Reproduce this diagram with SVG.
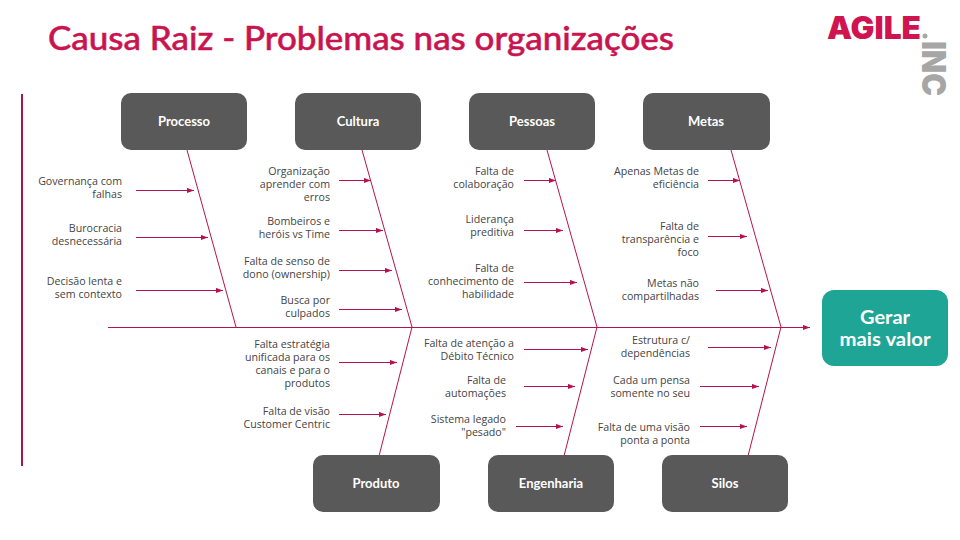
<svg xmlns="http://www.w3.org/2000/svg" width="960" height="540" viewBox="0 0 960 540">
<style>
.t{font-family:"Open Sans","Noto Sans",sans-serif;font-size:10.65px;fill:#444;text-anchor:end}
.n{fill:#595959}
.h{font-family:Lato,"Open Sans",sans-serif;font-weight:700;font-size:13px;fill:#fff;text-anchor:middle}
.g{font-family:Lato,"Open Sans",sans-serif;font-weight:700;font-size:19px;fill:#fff;text-anchor:middle}
.c line{stroke:#b5124f;stroke-width:1;fill:none}
.c line.a{marker-end:url(#m)}
</style>
<defs><marker id="m" markerUnits="userSpaceOnUse" markerWidth="8" markerHeight="6" refX="7" refY="3" orient="auto"><path d="M0 0.4L7 3L0 5.6z" fill="#b5124f"/></marker></defs>
<rect width="960" height="540" fill="#fff"/>
<text x="48" y="50" font-family="Lato,'Open Sans',sans-serif" font-size="32" font-weight="500" fill="#c8144f" stroke="#c8144f" stroke-width="0.5" textLength="626" lengthAdjust="spacingAndGlyphs">Causa Raiz - Problemas nas organizações</text>
<g id="logo">
<text x="827" y="39" font-family="Inter,'Liberation Sans',sans-serif" font-size="31" font-weight="900" fill="#d0144f" textLength="94" lengthAdjust="spacingAndGlyphs">AGILE</text>
<circle cx="925" cy="36" r="2.500" fill="#a6a6a6"/>
<text transform="translate(922 41) rotate(90)" font-family="Inter,'Liberation Sans',sans-serif" font-size="33" font-weight="900" fill="#a6a6a6" textLength="55" lengthAdjust="spacingAndGlyphs">INC</text>
</g>
<g class="c" id="connectors">
<line x1="22" y1="94" x2="22" y2="466" style="stroke-width:2;stroke:#a5174f"/>
<line class="a" x1="108" y1="327.500" x2="810" y2="327.500"/>
<line x1="187" y1="150" x2="236" y2="327"/>
<line x1="362" y1="150" x2="412" y2="327"/>
<line x1="547" y1="150" x2="597" y2="327"/>
<line x1="731" y1="150" x2="781" y2="327"/>
<line x1="412" y1="327" x2="379" y2="456"/>
<line x1="597" y1="327" x2="564" y2="456"/>
<line x1="781" y1="327" x2="748" y2="456"/>
<line class="a" x1="136" y1="190.500" x2="194" y2="190.500"/>
<line class="a" x1="136" y1="237.500" x2="208" y2="237.500"/>
<line class="a" x1="136" y1="290.500" x2="223" y2="290.500"/>
<line class="a" x1="339" y1="180.500" x2="371" y2="180.500"/>
<line class="a" x1="339" y1="230.500" x2="383" y2="230.500"/>
<line class="a" x1="339" y1="270.500" x2="392" y2="270.500"/>
<line class="a" x1="339" y1="309.500" x2="402" y2="309.500"/>
<line class="a" x1="524" y1="180.500" x2="556" y2="180.500"/>
<line class="a" x1="524" y1="230.500" x2="563" y2="230.500"/>
<line class="a" x1="524" y1="282.500" x2="577" y2="282.500"/>
<line class="a" x1="708" y1="180.500" x2="740" y2="180.500"/>
<line class="a" x1="708" y1="236.500" x2="747" y2="236.500"/>
<line class="a" x1="716" y1="290.500" x2="768" y2="290.500"/>
<line class="a" x1="339" y1="362.500" x2="397" y2="362.500"/>
<line class="a" x1="339" y1="414.500" x2="386" y2="414.500"/>
<line class="a" x1="524" y1="349.500" x2="588" y2="349.500"/>
<line class="a" x1="524" y1="386.500" x2="575" y2="386.500"/>
<line class="a" x1="516" y1="426.500" x2="563" y2="426.500"/>
<line class="a" x1="708" y1="347.500" x2="771" y2="347.500"/>
<line class="a" x1="700" y1="386.500" x2="759" y2="386.500"/>
<line class="a" x1="700" y1="426.500" x2="747" y2="426.500"/>
</g>
<g id="processo"><rect class="n" x="121" y="93" width="126" height="57" rx="10"/><text class="h" x="184" y="126">Processo</text></g>
<g id="cultura"><rect class="n" x="295" y="93" width="126" height="57" rx="10"/><text class="h" x="358" y="126">Cultura</text></g>
<g id="pessoas"><rect class="n" x="469" y="93" width="126" height="57" rx="10"/><text class="h" x="532" y="126">Pessoas</text></g>
<g id="metas"><rect class="n" x="643" y="93" width="127" height="57" rx="10"/><text class="h" x="706" y="126">Metas</text></g>
<g id="produto"><rect class="n" x="313" y="455" width="127" height="57" rx="10"/><text class="h" x="376" y="488">Produto</text></g>
<g id="engenharia"><rect class="n" x="488" y="455" width="126" height="57" rx="10"/><text class="h" x="551" y="488">Engenharia</text></g>
<g id="silos"><rect class="n" x="662" y="455" width="126" height="57" rx="10"/><text class="h" x="725" y="488">Silos</text></g>
<g id="gerar"><rect x="822" y="290" width="126" height="76" rx="12" fill="#1fa596"/>
<text class="g" x="885" y="324" textLength="50" lengthAdjust="spacingAndGlyphs">Gerar</text>
<text class="g" x="885" y="346" textLength="91" lengthAdjust="spacingAndGlyphs">mais valor</text></g>
<g id="labels">
<text class="t" x="122" y="185">Governança com</text><text class="t" x="122" y="198">falhas</text>
<text class="t" x="122" y="232">Burocracia</text><text class="t" x="122" y="245">desnecessária</text>
<text class="t" x="122" y="285">Decisão lenta e</text><text class="t" x="122" y="298">sem contexto</text>
<text class="t" x="330" y="175">Organização</text><text class="t" x="330" y="188">aprender com</text><text class="t" x="330" y="201">erros</text>
<text class="t" x="330" y="225">Bombeiros e</text><text class="t" x="330" y="238">heróis vs Time</text>
<text class="t" x="330" y="265">Falta de senso de</text><text class="t" x="330" y="278">dono (ownership)</text>
<text class="t" x="330" y="304">Busca por</text><text class="t" x="330" y="317">culpados</text>
<text class="t" x="514" y="175">Falta de</text><text class="t" x="514" y="188">colaboração</text>
<text class="t" x="514" y="223">Liderança</text><text class="t" x="514" y="236">preditiva</text>
<text class="t" x="514" y="272">Falta de</text><text class="t" x="514" y="285">conhecimento de</text><text class="t" x="514" y="298">habilidade</text>
<text class="t" x="699" y="175">Apenas Metas de</text><text class="t" x="699" y="188">eficiência</text>
<text class="t" x="699" y="230">Falta de</text><text class="t" x="699" y="243">transparência e</text><text class="t" x="699" y="256">foco</text>
<text class="t" x="699" y="287">Metas não</text><text class="t" x="699" y="300">compartilhadas</text>
<text class="t" x="330" y="348">Falta estratégia</text><text class="t" x="330" y="361">unificada para os</text><text class="t" x="330" y="374">canais e para o</text><text class="t" x="330" y="387">produtos</text>
<text class="t" x="330" y="415">Falta de visão</text><text class="t" x="330" y="428">Customer Centric</text>
<text class="t" x="514" y="347">Falta de atenção a</text><text class="t" x="514" y="360">Débito Técnico</text>
<text class="t" x="506" y="384">Falta de</text><text class="t" x="506" y="397">automações</text>
<text class="t" x="506" y="423">Sistema legado</text><text class="t" x="506" y="436">"pesado"</text>
<text class="t" x="690" y="344">Estrutura c/</text><text class="t" x="690" y="357">dependências</text>
<text class="t" x="690" y="384">Cada um pensa</text><text class="t" x="690" y="397">somente no seu</text>
<text class="t" x="690" y="431">Falta de uma visão</text><text class="t" x="690" y="444">ponta a ponta</text>
</g>
</svg>
